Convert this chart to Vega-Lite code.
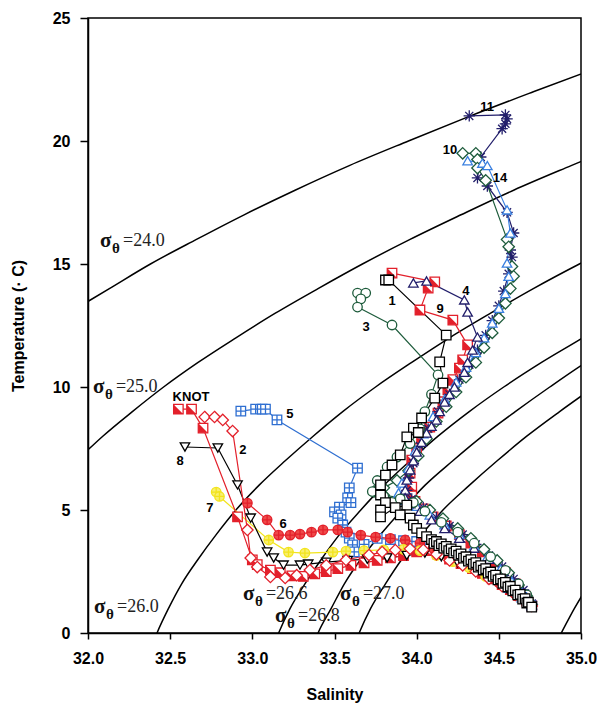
{
  "$schema": "https://vega.github.io/schema/vega-lite/v6.json",
  "width": 493,
  "height": 615,
  "autosize": {"type": "none"},
  "padding": {"left": 88, "top": 18, "right": 16, "bottom": 73},
  "background": "white",
  "config": {
    "view": {"stroke": "black", "strokeWidth": 1.5},
    "axis": {
      "grid": false,
      "domainColor": "black",
      "domainWidth": 1.5,
      "tickColor": "black",
      "tickWidth": 1.5,
      "labelFont": "Liberation Sans",
      "labelFontWeight": "bold",
      "labelFontSize": 16,
      "labelColor": "black",
      "titleFont": "Liberation Sans",
      "titleFontWeight": "bold",
      "titleFontSize": 16,
      "titleColor": "black",
      "labelOverlap": false,
      "labelFlush": false
    }
  },
  "datasets": {
    "cont": [
      {"g":"24.0","S":31.88,"T":13},{"g":"24.0","S":32.13,"T":14},{"g":"24.0","S":32.38,"T":15},{"g":"24.0","S":32.66,"T":16},{"g":"24.0","S":32.95,"T":17},{"g":"24.0","S":33.26,"T":18},{"g":"24.0","S":33.59,"T":19},{"g":"24.0","S":33.95,"T":20},{"g":"24.0","S":34.32,"T":21},{"g":"24.0","S":34.71,"T":22},{"g":"24.0","S":35.11,"T":23},
      {"g":"25.0","S":31.93,"T":7},{"g":"25.0","S":32.09,"T":8},{"g":"25.0","S":32.27,"T":9},{"g":"25.0","S":32.46,"T":10},{"g":"25.0","S":32.67,"T":11},{"g":"25.0","S":32.90,"T":12},{"g":"25.0","S":33.14,"T":13},{"g":"25.0","S":33.40,"T":14},{"g":"25.0","S":33.67,"T":15},{"g":"25.0","S":33.96,"T":16},{"g":"25.0","S":34.27,"T":17},{"g":"25.0","S":34.59,"T":18},{"g":"25.0","S":34.94,"T":19},{"g":"25.0","S":35.30,"T":20},
      {"g":"26.0","S":32.39,"T":-0.5},{"g":"26.0","S":32.42,"T":0},{"g":"26.0","S":32.49,"T":1},{"g":"26.0","S":32.57,"T":2},{"g":"26.0","S":32.67,"T":3},{"g":"26.0","S":32.78,"T":4},{"g":"26.0","S":32.90,"T":5},{"g":"26.0","S":33.04,"T":6},{"g":"26.0","S":33.20,"T":7},{"g":"26.0","S":33.37,"T":8},{"g":"26.0","S":33.55,"T":9},{"g":"26.0","S":33.75,"T":10},{"g":"26.0","S":33.97,"T":11},{"g":"26.0","S":34.20,"T":12},{"g":"26.0","S":34.45,"T":13},{"g":"26.0","S":34.71,"T":14},{"g":"26.0","S":34.99,"T":15},{"g":"26.0","S":35.29,"T":16},
      {"g":"26.6","S":33.13,"T":-0.5},{"g":"26.6","S":33.16,"T":0},{"g":"26.6","S":33.23,"T":1},{"g":"26.6","S":33.32,"T":2},{"g":"26.6","S":33.42,"T":3},{"g":"26.6","S":33.53,"T":4},{"g":"26.6","S":33.66,"T":5},{"g":"26.6","S":33.80,"T":6},{"g":"26.6","S":33.96,"T":7},{"g":"26.6","S":34.13,"T":8},{"g":"26.6","S":34.32,"T":9},{"g":"26.6","S":34.53,"T":10},{"g":"26.6","S":34.76,"T":11},{"g":"26.6","S":35.01,"T":12},{"g":"26.6","S":35.13,"T":12.5},
      {"g":"26.8","S":33.37,"T":-0.5},{"g":"26.8","S":33.40,"T":0},{"g":"26.8","S":33.48,"T":1},{"g":"26.8","S":33.56,"T":2},{"g":"26.8","S":33.66,"T":3},{"g":"26.8","S":33.78,"T":4},{"g":"26.8","S":33.91,"T":5},{"g":"26.8","S":34.05,"T":6},{"g":"26.8","S":34.22,"T":7},{"g":"26.8","S":34.40,"T":8},{"g":"26.8","S":34.60,"T":9},{"g":"26.8","S":34.81,"T":10},{"g":"26.8","S":35.03,"T":11},{"g":"26.8","S":35.15,"T":11.5},
      {"g":"27.0","S":33.62,"T":-0.5},{"g":"27.0","S":33.65,"T":0},{"g":"27.0","S":33.72,"T":1},{"g":"27.0","S":33.81,"T":2},{"g":"27.0","S":33.91,"T":3},{"g":"27.0","S":34.03,"T":4},{"g":"27.0","S":34.16,"T":5},{"g":"27.0","S":34.32,"T":6},{"g":"27.0","S":34.49,"T":7},{"g":"27.0","S":34.67,"T":8},{"g":"27.0","S":34.87,"T":9},{"g":"27.0","S":35.08,"T":10},
      {"g":"28.0","S":34.84,"T":-0.5},{"g":"28.0","S":34.88,"T":0},{"g":"28.0","S":34.96,"T":1},{"g":"28.0","S":35.05,"T":2}
    ],
    "sig": [
      {"S":32.073,"T":15.69,"v":"=24.0"},
      {"S":32.030,"T":9.76,"v":"=25.0"},
      {"S":32.037,"T":0.81,"v":"=26.0"},
      {"S":32.943,"T":1.34,"v":"=26.6"},
      {"S":33.138,"T":0.45,"v":"=26.8"},
      {"S":33.533,"T":1.34,"v":"=27.0"}
    ],
    "lab": [
      {"S":32.627,"T":9.59,"n":"KNOT"},
      {"S":33.850,"T":13.50,"n":"1"},
      {"S":32.943,"T":7.44,"n":"2"},
      {"S":33.692,"T":12.44,"n":"3"},
      {"S":34.300,"T":13.90,"n":"4"},
      {"S":33.229,"T":8.90,"n":"5"},
      {"S":33.187,"T":4.43,"n":"6"},
      {"S":32.742,"T":5.08,"n":"7"},
      {"S":32.560,"T":6.99,"n":"8"},
      {"S":34.142,"T":13.17,"n":"9"},
      {"S":34.203,"T":19.63,"n":"10"},
      {"S":34.428,"T":21.38,"n":"11"},
      {"S":34.507,"T":18.50,"n":"14"}
    ],
    "prof": [
      {"st":"11","S":34.32,"T":21.02},{"st":"11","S":34.54,"T":21.06},{"st":"11","S":34.55,"T":20.9},{"st":"11","S":34.54,"T":20.7},{"st":"11","S":34.52,"T":20.5},{"st":"11","S":34.39,"T":19.35},{"st":"11","S":34.37,"T":18.5},{"st":"11","S":34.43,"T":18.17},{"st":"11","S":34.55,"T":17.1},{"st":"11","S":34.59,"T":16.26},{"st":"11","S":34.57,"T":15.57},{"st":"11","S":34.58,"T":15.28},{"st":"11","S":34.56,"T":14.6},{"st":"11","S":34.53,"T":13.9},{"st":"11","S":34.5,"T":13.3},{"st":"11","S":34.46,"T":12.7},{"st":"11","S":34.42,"T":12.1},{"st":"11","S":34.37,"T":11.5},{"st":"11","S":34.32,"T":10.9},{"st":"11","S":34.26,"T":10.3},{"st":"11","S":34.2,"T":9.7},{"st":"11","S":34.13,"T":9.0},{"st":"11","S":34.07,"T":8.3},{"st":"11","S":34.02,"T":7.6},{"st":"11","S":33.98,"T":6.9},{"st":"11","S":33.95,"T":6.3},{"st":"11","S":33.94,"T":5.8},{"st":"11","S":33.97,"T":5.45},{"st":"11","S":34.04,"T":5.1},{"st":"11","S":34.12,"T":4.7},{"st":"11","S":34.2,"T":4.35},{"st":"11","S":34.28,"T":4.0},{"st":"11","S":34.36,"T":3.6},{"st":"11","S":34.44,"T":3.15},{"st":"11","S":34.52,"T":2.7},{"st":"11","S":34.59,"T":2.2},{"st":"11","S":34.65,"T":1.75},{"st":"11","S":34.7,"T":1.2},
      {"st":"10","S":34.28,"T":19.5},{"st":"10","S":34.36,"T":19.5},{"st":"10","S":34.37,"T":19.25},{"st":"10","S":34.37,"T":18.9},{"st":"10","S":34.42,"T":18.4},{"st":"10","S":34.55,"T":16.0},{"st":"10","S":34.56,"T":15.7},{"st":"10","S":34.58,"T":14.9},{"st":"10","S":34.59,"T":14.5},{"st":"10","S":34.57,"T":14.0},{"st":"10","S":34.54,"T":13.4},{"st":"10","S":34.5,"T":12.8},{"st":"10","S":34.46,"T":12.2},{"st":"10","S":34.41,"T":11.6},{"st":"10","S":34.36,"T":11.0},{"st":"10","S":34.3,"T":10.4},{"st":"10","S":34.24,"T":9.8},{"st":"10","S":34.18,"T":9.2},{"st":"10","S":34.12,"T":8.6},{"st":"10","S":34.06,"T":7.9},{"st":"10","S":34.01,"T":7.2},{"st":"10","S":33.95,"T":6.6},{"st":"10","S":33.88,"T":6.2},{"st":"10","S":33.8,"T":5.9},{"st":"10","S":33.74,"T":5.75},{"st":"10","S":33.8,"T":5.6},{"st":"10","S":33.9,"T":5.5},{"st":"10","S":34.0,"T":5.35},{"st":"10","S":34.08,"T":5.0},{"st":"10","S":34.16,"T":4.65},{"st":"10","S":34.25,"T":4.25},{"st":"10","S":34.33,"T":3.85},{"st":"10","S":34.41,"T":3.4},{"st":"10","S":34.49,"T":2.95},{"st":"10","S":34.56,"T":2.45},{"st":"10","S":34.62,"T":1.95},{"st":"10","S":34.67,"T":1.5},{"st":"10","S":34.7,"T":1.15},
      {"st":"14","S":34.31,"T":19.2},{"st":"14","S":34.40,"T":19.1},{"st":"14","S":34.43,"T":19.0},{"st":"14","S":34.55,"T":17.2},{"st":"14","S":34.57,"T":16.26},{"st":"14","S":34.55,"T":15.04},{"st":"14","S":34.56,"T":14.5},{"st":"14","S":34.54,"T":13.8},{"st":"14","S":34.5,"T":13.2},{"st":"14","S":34.46,"T":12.6},{"st":"14","S":34.41,"T":12.0},{"st":"14","S":34.36,"T":11.4},{"st":"14","S":34.3,"T":10.8},{"st":"14","S":34.24,"T":10.2},{"st":"14","S":34.17,"T":9.5},{"st":"14","S":34.1,"T":8.8},{"st":"14","S":34.04,"T":8.1},{"st":"14","S":33.99,"T":7.4},{"st":"14","S":33.95,"T":6.7},{"st":"14","S":33.91,"T":6.1},{"st":"14","S":33.89,"T":5.7},{"st":"14","S":33.92,"T":5.4},{"st":"14","S":34.0,"T":5.15},{"st":"14","S":34.08,"T":4.8},{"st":"14","S":34.17,"T":4.4},{"st":"14","S":34.26,"T":4.0},{"st":"14","S":34.35,"T":3.55},{"st":"14","S":34.43,"T":3.1},{"st":"14","S":34.51,"T":2.6},{"st":"14","S":34.58,"T":2.1},{"st":"14","S":34.64,"T":1.65},{"st":"14","S":34.7,"T":1.15},
      {"st":"4","S":33.98,"T":14.23},{"st":"4","S":34.06,"T":14.31},{"st":"4","S":34.29,"T":13.54},{"st":"4","S":34.31,"T":13.05},{"st":"4","S":34.37,"T":12.03},{"st":"4","S":34.34,"T":11.5},{"st":"4","S":34.31,"T":11.0},{"st":"4","S":34.29,"T":10.6},{"st":"4","S":34.23,"T":10.0},{"st":"4","S":34.2,"T":9.7},{"st":"4","S":34.17,"T":9.39},{"st":"4","S":34.14,"T":9.0},{"st":"4","S":34.12,"T":8.66},{"st":"4","S":34.09,"T":8.4},{"st":"4","S":34.06,"T":8.13},{"st":"4","S":34.03,"T":7.75},{"st":"4","S":34.0,"T":7.36},{"st":"4","S":33.98,"T":7.0},{"st":"4","S":33.96,"T":6.63},{"st":"4","S":33.94,"T":6.22},{"st":"4","S":33.93,"T":5.81},{"st":"4","S":33.93,"T":5.5},{"st":"4","S":33.96,"T":5.25},{"st":"4","S":34.02,"T":4.95},{"st":"4","S":34.09,"T":4.6},{"st":"4","S":34.17,"T":4.25},{"st":"4","S":34.26,"T":3.85},{"st":"4","S":34.35,"T":3.45},{"st":"4","S":34.44,"T":3.0},{"st":"4","S":34.53,"T":2.5},{"st":"4","S":34.61,"T":2.0},{"st":"4","S":34.67,"T":1.5},{"st":"4","S":34.7,"T":1.15},
      {"st":"3","S":33.64,"T":13.82},{"st":"3","S":33.69,"T":13.82},{"st":"3","S":33.66,"T":13.58},{"st":"3","S":33.64,"T":13.25},{"st":"3","S":33.85,"T":12.52},{"st":"3","S":34.13,"T":10.49},{"st":"3","S":34.09,"T":9.7},{"st":"3","S":34.05,"T":9.0},{"st":"3","S":34.02,"T":8.3},{"st":"3","S":33.96,"T":7.7},{"st":"3","S":33.88,"T":7.15},{"st":"3","S":33.82,"T":6.75},{"st":"3","S":33.76,"T":6.2},{"st":"3","S":33.73,"T":5.75},{"st":"3","S":33.8,"T":5.55},{"st":"3","S":33.9,"T":5.45},{"st":"3","S":33.98,"T":5.3},{"st":"3","S":34.05,"T":4.95},{"st":"3","S":34.15,"T":4.5},{"st":"3","S":34.25,"T":4.1},{"st":"3","S":34.35,"T":3.65},{"st":"3","S":34.45,"T":3.1},{"st":"3","S":34.54,"T":2.55},{"st":"3","S":34.62,"T":2.0},{"st":"3","S":34.67,"T":1.55},{"st":"3","S":34.7,"T":1.15},
      {"st":"9","S":33.85,"T":14.63},{"st":"9","S":34.11,"T":14.27},{"st":"9","S":34.07,"T":14.02},{"st":"9","S":34.02,"T":13.13},{"st":"9","S":34.22,"T":12.72},{"st":"9","S":34.31,"T":11.71},{"st":"9","S":34.28,"T":11.1},{"st":"9","S":34.26,"T":10.77},{"st":"9","S":34.22,"T":10.3},{"st":"9","S":34.19,"T":9.88},{"st":"9","S":34.16,"T":9.4},{"st":"9","S":34.13,"T":8.94},{"st":"9","S":34.08,"T":8.37},{"st":"9","S":34.03,"T":7.9},{"st":"9","S":34.0,"T":7.5},{"st":"9","S":33.97,"T":7.03},{"st":"9","S":33.96,"T":6.5},{"st":"9","S":33.97,"T":5.93},{"st":"9","S":33.97,"T":5.6},{"st":"9","S":33.99,"T":5.35},{"st":"9","S":34.04,"T":5.05},{"st":"9","S":34.1,"T":4.72},{"st":"9","S":34.18,"T":4.35},{"st":"9","S":34.26,"T":4.0},{"st":"9","S":34.33,"T":3.65},{"st":"9","S":34.4,"T":3.3},{"st":"9","S":34.47,"T":2.9},{"st":"9","S":34.54,"T":2.45},{"st":"9","S":34.6,"T":2.0},{"st":"9","S":34.66,"T":1.5},{"st":"9","S":34.7,"T":1.1},
      {"st":"5","S":32.93,"T":9.02},{"st":"5","S":33.02,"T":9.1},{"st":"5","S":33.06,"T":9.1},{"st":"5","S":33.08,"T":9.1},{"st":"5","S":33.15,"T":8.66},{"st":"5","S":33.64,"T":6.7},{"st":"5","S":33.59,"T":5.9},{"st":"5","S":33.58,"T":5.49},{"st":"5","S":33.6,"T":5.3},{"st":"5","S":33.53,"T":5.12},{"st":"5","S":33.5,"T":4.92},{"st":"5","S":33.54,"T":4.8},{"st":"5","S":33.52,"T":4.67},{"st":"5","S":33.55,"T":4.39},{"st":"5","S":33.57,"T":4.1},{"st":"5","S":33.59,"T":3.86},{"st":"5","S":33.61,"T":3.58},{"st":"5","S":33.62,"T":3.3},{"st":"5","S":33.68,"T":3.6},{"st":"5","S":33.76,"T":3.85},{"st":"5","S":33.84,"T":3.8},{"st":"5","S":33.92,"T":3.75},{"st":"5","S":34.0,"T":3.72},{"st":"5","S":34.08,"T":3.6},{"st":"5","S":34.17,"T":3.35},{"st":"5","S":34.27,"T":3.05},{"st":"5","S":34.37,"T":2.7},{"st":"5","S":34.47,"T":2.3},{"st":"5","S":34.56,"T":1.85},{"st":"5","S":34.64,"T":1.45},{"st":"5","S":34.7,"T":1.1},
      {"st":"6","S":32.97,"T":5.28},{"st":"6","S":33.09,"T":4.6},{"st":"6","S":33.16,"T":3.98},{"st":"6","S":33.23,"T":3.98},{"st":"6","S":33.29,"T":4.02},{"st":"6","S":33.36,"T":4.1},{"st":"6","S":33.43,"T":4.19},{"st":"6","S":33.52,"T":4.19},{"st":"6","S":33.58,"T":4.1},{"st":"6","S":33.66,"T":3.98},{"st":"6","S":33.75,"T":3.9},{"st":"6","S":33.84,"T":3.85},{"st":"6","S":33.93,"T":3.78},{"st":"6","S":34.02,"T":3.65},{"st":"6","S":34.1,"T":3.45},{"st":"6","S":34.2,"T":3.15},{"st":"6","S":34.3,"T":2.8},{"st":"6","S":34.4,"T":2.45},{"st":"6","S":34.5,"T":2.05},{"st":"6","S":34.6,"T":1.6},{"st":"6","S":34.7,"T":1.1},
      {"st":"7","S":32.78,"T":5.73},{"st":"7","S":32.8,"T":5.55},{"st":"7","S":33.1,"T":3.78},{"st":"7","S":33.22,"T":3.29},{"st":"7","S":33.32,"T":3.25},{"st":"7","S":33.49,"T":3.29},{"st":"7","S":33.57,"T":3.33},{"st":"7","S":33.68,"T":3.35},{"st":"7","S":33.8,"T":3.38},{"st":"7","S":33.92,"T":3.4},{"st":"7","S":34.02,"T":3.35},{"st":"7","S":34.12,"T":3.15},{"st":"7","S":34.22,"T":2.9},{"st":"7","S":34.32,"T":2.65},{"st":"7","S":34.42,"T":2.3},{"st":"7","S":34.52,"T":1.95},{"st":"7","S":34.61,"T":1.55},{"st":"7","S":34.7,"T":1.1},
      {"st":"8","S":32.59,"T":7.56},{"st":"8","S":32.79,"T":7.52},{"st":"8","S":32.91,"T":6.02},{"st":"8","S":32.99,"T":4.67},{"st":"8","S":33.09,"T":3.29},{"st":"8","S":33.13,"T":3.05},{"st":"8","S":33.19,"T":2.76},{"st":"8","S":33.29,"T":2.76},{"st":"8","S":33.34,"T":2.8},{"st":"8","S":33.45,"T":2.88},{"st":"8","S":33.58,"T":2.95},{"st":"8","S":33.7,"T":3.0},{"st":"8","S":33.82,"T":3.05},{"st":"8","S":33.94,"T":3.15},{"st":"8","S":34.05,"T":3.25},{"st":"8","S":34.15,"T":3.1},{"st":"8","S":34.25,"T":2.85},{"st":"8","S":34.35,"T":2.55},{"st":"8","S":34.45,"T":2.2},{"st":"8","S":34.55,"T":1.8},{"st":"8","S":34.63,"T":1.45},{"st":"8","S":34.7,"T":1.1},
      {"st":"2","S":32.71,"T":8.78},{"st":"2","S":32.77,"T":8.78},{"st":"2","S":32.82,"T":8.66},{"st":"2","S":32.88,"T":8.21},{"st":"2","S":32.97,"T":4.19},{"st":"2","S":32.99,"T":3.05},{"st":"2","S":33.03,"T":2.68},{"st":"2","S":33.11,"T":2.28},{"st":"2","S":33.2,"T":2.24},{"st":"2","S":33.27,"T":2.35},{"st":"2","S":33.35,"T":2.56},{"st":"2","S":33.45,"T":2.75},{"st":"2","S":33.57,"T":2.97},{"st":"2","S":33.71,"T":3.17},{"st":"2","S":33.79,"T":3.29},{"st":"2","S":33.87,"T":3.37},{"st":"2","S":33.96,"T":3.42},{"st":"2","S":34.04,"T":3.38},{"st":"2","S":34.12,"T":3.2},{"st":"2","S":34.2,"T":2.95},{"st":"2","S":34.28,"T":2.75},{"st":"2","S":34.36,"T":2.5},{"st":"2","S":34.44,"T":2.2},{"st":"2","S":34.52,"T":1.9},{"st":"2","S":34.6,"T":1.55},{"st":"2","S":34.66,"T":1.3},{"st":"2","S":34.7,"T":1.1},
      {"st":"KNOT","S":32.55,"T":9.1},{"st":"KNOT","S":32.63,"T":9.1},{"st":"KNOT","S":32.7,"T":8.33},{"st":"KNOT","S":32.91,"T":4.72},{"st":"KNOT","S":33.0,"T":2.97},{"st":"KNOT","S":33.03,"T":2.78},{"st":"KNOT","S":33.11,"T":2.56},{"st":"KNOT","S":33.17,"T":2.45},{"st":"KNOT","S":33.24,"T":2.32},{"st":"KNOT","S":33.31,"T":2.3},{"st":"KNOT","S":33.38,"T":2.4},{"st":"KNOT","S":33.45,"T":2.5},{"st":"KNOT","S":33.52,"T":2.62},{"st":"KNOT","S":33.6,"T":2.75},{"st":"KNOT","S":33.68,"T":2.85},{"st":"KNOT","S":33.76,"T":2.95},{"st":"KNOT","S":33.84,"T":3.05},{"st":"KNOT","S":33.92,"T":3.15},{"st":"KNOT","S":34.0,"T":3.3},{"st":"KNOT","S":34.06,"T":3.35},{"st":"KNOT","S":34.13,"T":3.2},{"st":"KNOT","S":34.2,"T":3.0},{"st":"KNOT","S":34.27,"T":2.82},{"st":"KNOT","S":34.34,"T":2.62},{"st":"KNOT","S":34.4,"T":2.42},{"st":"KNOT","S":34.46,"T":2.2},{"st":"KNOT","S":34.52,"T":1.97},{"st":"KNOT","S":34.57,"T":1.76},{"st":"KNOT","S":34.62,"T":1.52},{"st":"KNOT","S":34.67,"T":1.3},{"st":"KNOT","S":34.7,"T":1.1},
      {"st":"1","S":33.81,"T":14.35},{"st":"1","S":33.83,"T":14.35},{"st":"1","S":34.18,"T":12.11},{"st":"1","S":34.14,"T":11.02},{"st":"1","S":34.16,"T":10.16},{"st":"1","S":34.11,"T":9.55},{"st":"1","S":34.03,"T":8.74},{"st":"1","S":33.98,"T":8.33},{"st":"1","S":34.01,"T":8.15},{"st":"1","S":33.94,"T":7.97},{"st":"1","S":33.9,"T":7.24},{"st":"1","S":33.85,"T":6.83},{"st":"1","S":33.81,"T":6.42},{"st":"1","S":33.78,"T":6.02},{"st":"1","S":33.78,"T":5.61},{"st":"1","S":33.81,"T":5.3},{"st":"1","S":33.78,"T":5.0},{"st":"1","S":33.78,"T":4.72},{"st":"1","S":33.87,"T":5.1},{"st":"1","S":33.94,"T":5.2},{"st":"1","S":33.9,"T":4.8},{"st":"1","S":33.96,"T":4.67},{"st":"1","S":33.98,"T":4.39},{"st":"1","S":34.0,"T":4.25},{"st":"1","S":34.03,"T":4.07},{"st":"1","S":34.06,"T":3.92},{"st":"1","S":34.09,"T":3.8},
      {"st":"1","S":34.105,"T":3.64},{"st":"1","S":34.12,"T":3.72},{"st":"1","S":34.135,"T":3.55},{"st":"1","S":34.15,"T":3.62},{"st":"1","S":34.165,"T":3.45},{"st":"1","S":34.18,"T":3.52},{"st":"1","S":34.195,"T":3.35},{"st":"1","S":34.21,"T":3.42},{"st":"1","S":34.225,"T":3.26},{"st":"1","S":34.24,"T":3.33},{"st":"1","S":34.255,"T":3.16},{"st":"1","S":34.27,"T":3.22},{"st":"1","S":34.285,"T":3.04},{"st":"1","S":34.3,"T":3.1},{"st":"1","S":34.315,"T":2.92},{"st":"1","S":34.33,"T":2.98},{"st":"1","S":34.345,"T":2.8},{"st":"1","S":34.36,"T":2.86},{"st":"1","S":34.375,"T":2.68},{"st":"1","S":34.39,"T":2.74},{"st":"1","S":34.405,"T":2.56},{"st":"1","S":34.42,"T":2.62},{"st":"1","S":34.435,"T":2.43},{"st":"1","S":34.45,"T":2.48},{"st":"1","S":34.465,"T":2.3},{"st":"1","S":34.48,"T":2.35},{"st":"1","S":34.495,"T":2.16},{"st":"1","S":34.51,"T":2.2},{"st":"1","S":34.525,"T":2.02},{"st":"1","S":34.54,"T":2.06},{"st":"1","S":34.555,"T":1.87},{"st":"1","S":34.57,"T":1.9},{"st":"1","S":34.585,"T":1.71},{"st":"1","S":34.6,"T":1.74},{"st":"1","S":34.615,"T":1.55},{"st":"1","S":34.63,"T":1.57},{"st":"1","S":34.645,"T":1.38},{"st":"1","S":34.66,"T":1.4},{"st":"1","S":34.67,"T":1.22},{"st":"1","S":34.68,"T":1.25},{"st":"1","S":34.7,"T":1.05}
    ]
  },
  "encoding": {
    "x": {"field": "S", "type": "quantitative", "title": "Salinity",
      "scale": {"domain": [32, 35], "nice": false, "zero": false},
      "axis": {"values": [32, 32.5, 33, 33.5, 34, 34.5, 35], "format": ".1f", "tickSize": 6, "labelPadding": 11, "titlePadding": 20}},
    "y": {"field": "T", "type": "quantitative", "title": "Temperature (· C)",
      "scale": {"domain": [0, 25], "nice": false, "zero": false},
      "axis": {"values": [0, 5, 10, 15, 20, 25], "format": "d", "tickSize": 8, "labelPadding": 10, "titlePadding": 26}}
  },
  "layer": [
    {
      "data": {"name": "cont"},
      "mark": {"type": "line", "color": "black", "strokeWidth": 1.5, "interpolate": "monotone", "clip": true},
      "encoding": {"detail": {"field": "g", "type": "nominal"}, "order": {"value": null}}
    },
    {
      "data": {"name": "sig"},
      "mark": {"type": "text", "text": "σ", "font": "Liberation Serif", "fontSize": 21, "fontWeight": "bold", "align": "left", "baseline": "alphabetic", "color": "#111"}
    },
    {
      "data": {"name": "sig"},
      "mark": {"type": "text", "text": "θ", "font": "Liberation Serif", "fontSize": 15, "fontWeight": "bold", "align": "left", "baseline": "alphabetic", "dx": 12, "dy": 6, "color": "#111"}
    },
    {
      "data": {"name": "sig"},
      "mark": {"type": "text", "font": "Liberation Serif", "fontSize": 18, "align": "left", "baseline": "alphabetic", "dx": 23, "dy": -1, "color": "#222"},
      "encoding": {"text": {"field": "v", "type": "nominal"}}
    },
    {
      "data": {"name": "prof"},
      "mark": {"type": "line", "strokeWidth": 1.2},
      "encoding": {
        "stroke": {"field": "st", "type": "nominal", "legend": null,
          "scale": {"domain": ["KNOT","1","2","3","4","5","6","7","8","9","10","11","14"],
                    "range": ["#e3202b","#000000","#e3202b","#1e5c3c","#221e6b","#2f6fd1","#e3202b","#f2e41d","#000000","#e3202b","#1e5c3c","#221e6b","#3a80e0"]}},
        "order": {"value": null}
      }
    },
    {
      "data": {"name": "prof"},
      "transform": [{"filter": {"field": "st", "oneOf": ["KNOT", "9"]}}],
      "mark": {"type": "point", "filled": true, "size": 90, "strokeWidth": 1.3, "opacity": 1, "shape": "M-1,-1L1,-1L1,1L-1,1Z", "fill": "white", "stroke": "#e3202b"}
    },
    {
      "data": {"name": "prof"},
      "transform": [{"filter": {"field": "st", "oneOf": ["KNOT", "9"]}}],
      "mark": {"type": "point", "filled": true, "size": 90, "strokeWidth": 0, "opacity": 1, "shape": "M-1,-1L-1,1L1,1Z", "color": "#e3202b"}
    },
    {
      "data": {"name": "prof"},
      "transform": [{"filter": {"not": {"field": "st", "oneOf": ["KNOT", "9"]}}}],
      "mark": {"type": "point", "filled": true, "size": 90, "strokeWidth": 1.3, "opacity": 1},
      "encoding": {
        "stroke": {"field": "st", "type": "nominal", "legend": null,
          "scale": {"domain": ["KNOT","1","2","3","4","5","6","7","8","9","10","11","14"],
                    "range": ["#e3202b","#000000","#e3202b","#1e5c3c","#221e6b","#2f6fd1","#e3202b","#f2e41d","#000000","#e3202b","#1e5c3c","#221e6b","#3a80e0"]}},
        "fill": {"field": "st", "type": "nominal", "legend": null,
          "scale": {"domain": ["KNOT","1","2","3","4","5","6","7","8","9","10","11","14"],
                    "range": ["#ffffff","#ffffff","#ffffff","#ffffff","#ffffff","#ffffff","#ef4a4a","#f8ef70","#ffffff","#ffffff","#ffffff","#ffffff","#ffffff"]}},
        "shape": {"field": "st", "type": "nominal", "legend": null,
          "scale": {"domain": ["KNOT","1","2","3","4","5","6","7","8","9","10","11","14"],
                    "range": ["M-1,-1L1,-1L1,1L-1,1Z","M-1,-1L1,-1L1,1L-1,1Z","M0,-1.2L1.2,0L0,1.2L-1.2,0Z","circle","triangle-up","M-1,-1L1,-1L1,1L-1,1Z M0,-1L0,1 M-1,0L1,0","M-1,0A1,1,0,1,1,1,0A1,1,0,1,1,-1,0Z M0,-1L0,1 M-1,0L1,0","M-1,0A1,1,0,1,1,1,0A1,1,0,1,1,-1,0Z M0,-1L0,1 M-1,0L1,0","triangle-down","M-1,-1L1,-1L1,1L-1,1Z","M0,-1.2L1.2,0L0,1.2L-1.2,0Z","M0,-1.2L0,1.2M-1.2,0L1.2,0M-0.85,-0.85L0.85,0.85M-0.85,0.85L0.85,-0.85","triangle-up"]}}
      }
    },
    {
      "data": {"name": "lab"},
      "mark": {"type": "text", "font": "Liberation Sans", "fontSize": 13, "fontWeight": "bold", "align": "center", "baseline": "middle", "color": "black"},
      "encoding": {"text": {"field": "n", "type": "nominal"}}
    }
  ]
}
